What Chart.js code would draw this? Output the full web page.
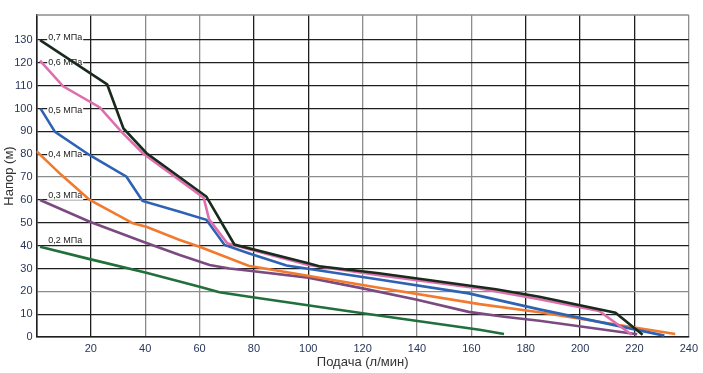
<!DOCTYPE html>
<html>
<head>
<meta charset="utf-8">
<script src="https://cdn.jsdelivr.net/npm/chart.js@4/dist/chart.umd.min.js"></script>
<style>
  html, body { margin: 0; padding: 0; background: #fff; }
  #wrap { width: 703px; height: 373px; }
</style>
</head>
<body>
<div id="wrap"><canvas id="pumpChart" width="703" height="373"></canvas></div>
<script>
// pump curves, head (m) vs flow (l/min)
const seriesLabels = ['0,7 МПа', '0,6 МПа', '0,5 МПа', '0,4 МПа', '0,3 МПа', '0,2 МПа'];
const seriesColors = ['#1a2a1c', '#de6fae', '#2e62b3', '#f27a2e', '#7b4a80', '#216f3b'];

const flow07 = [1.3, 26, 32, 40.4, 62.5, 72.8, 100, 104, 126, 169, 185, 213, 223];
const head07 = [130, 110.6, 91.3, 80.6, 61.5, 40.5, 32.3, 31, 27.9, 20.9, 17.6, 10.6, 1];

const flow06 = [1.3, 9.8, 23.3, 31.3, 39.2, 61.5, 63.5, 70.2, 100, 126, 163, 185, 207, 219];
const head06 = [121, 109.8, 100.5, 89.8, 80.4, 61, 51.5, 41, 31.5, 27.1, 21.3, 16.5, 11.4, 1];

const flow05 = [1.5, 6.8, 19.6, 33.1, 39, 52.7, 62.5, 69.2, 78.3, 92, 126, 159, 185, 231];
const head05 = [100, 89.8, 79.6, 70.2, 59.6, 54.8, 51.3, 40.3, 36.6, 31.3, 25.2, 19.1, 12.1, 0.6];

const flow04 = [0, 9.2, 19.6, 35.5, 40.4, 52.7, 60, 78, 126, 163, 185, 235];
const head04 = [81.4, 70.9, 60, 49.8, 48.3, 42.5, 39.5, 31.2, 21.6, 14.4, 10.8, 1.3];

const flow03 = [1.3, 19.6, 39.2, 52.7, 63.7, 71, 78.3, 100, 120, 140, 159, 172, 185, 221];
const head03 = [60, 50.5, 41.7, 35.9, 31.5, 30, 29, 26, 21.3, 16.3, 11, 8.9, 7.1, 1.2];

const flow02 = [1.3, 19.6, 40.4, 60, 67.3, 78.3, 120, 163, 172];
const head02 = [39.5, 34.1, 28.1, 22, 19.6, 17.6, 10.4, 3.2, 1.3];

// where the pressure tags sit (data units)
const tagFlow = [4.3, 4.3, 4.3, 4.3, 4.3, 4.3];
const tagHead = [131, 120, 99, 80, 61.8, 42.2];

const xTicksGrey = [40, 60, 120, 140, 160, 240];
const yTicksGrey = [20, 70];

const flows = [flow07, flow06, flow05, flow04, flow03, flow02];
const heads = [head07, head06, head05, head04, head03, head02];

function pairs(xs, ys) {
  return xs.map((x, i) => ({ x: x, y: ys[i] }));
}

const datasets = seriesLabels.map((lbl, i) => ({
  label: lbl,
  data: pairs(flows[i], heads[i]),
  borderColor: seriesColors[i],
  borderWidth: 2.6,
  pointRadius: 0,
  tension: 0,
  fill: false
}));

const FONT = "'Liberation Sans', Arial, sans-serif";

const framePlugin = {
  id: 'frame',
  beforeDatasetsDraw(chart) {
    const c = chart.ctx;
    const a = chart.chartArea;
    const xs = chart.scales.x, ys = chart.scales.y;
    c.save();
    // top border
    c.strokeStyle = '#8c8c8c';
    c.lineWidth = 1.5;
    c.beginPath();
    c.moveTo(a.left, a.top);
    c.lineTo(a.right, a.top);
    c.stroke();
    // pressure tags
    c.font = '9px ' + FONT;
    c.textBaseline = 'middle';
    c.textAlign = 'left';
    seriesLabels.forEach((lbl, i) => {
      const px = xs.getPixelForValue(tagFlow[i]);
      const py = ys.getPixelForValue(tagHead[i]);
      const w = c.measureText(lbl).width;
      c.fillStyle = '#fff';
      c.fillRect(px - 1, py - 4, w + 2, 8);
      c.fillStyle = '#222';
      c.fillText(lbl, px, py);
    });
    c.restore();
  }
};

new Chart(document.getElementById('pumpChart'), {
  type: 'line',
  data: { datasets: datasets },
  options: {
    responsive: false,
    animation: false,
    layout: { padding: { top: 15, right: 13, left: 0, bottom: 0 } },
    plugins: {
      legend: { display: false },
      tooltip: { enabled: false }
    },
    scales: {
      x: {
        type: 'linear',
        min: 0,
        max: 240,
        afterFit: s => { s.height = 36; },
        ticks: {
          stepSize: 20,
          padding: 5,
          color: '#27365a',
          font: { family: FONT, size: 11 },
          callback: v => (v === 0 ? '' : v)
        },
        grid: {
          drawTicks: false,
          lineWidth: 1.3,
          color: ctx => (ctx.tick && xTicksGrey.includes(ctx.tick.value)) ? '#8c8c8c' : '#1f1f1f'
        },
        border: { color: '#1f1f1f', width: 1.5 },
        title: {
          display: true,
          text: 'Подача (л/мин)',
          color: '#333',
          font: { family: FONT, size: 13 },
          padding: { top: 2, bottom: 3 }
        }
      },
      y: {
        type: 'linear',
        min: 0,
        max: 141,
        afterFit: s => { s.width = 36.5; },
        afterBuildTicks: axis => { axis.ticks = axis.ticks.filter(t => t.value <= 130); },
        ticks: {
          stepSize: 10,
          padding: 4,
          color: '#27365a',
          font: { family: FONT, size: 11 }
        },
        grid: {
          drawTicks: false,
          lineWidth: 1.3,
          color: ctx => (ctx.tick && yTicksGrey.includes(ctx.tick.value)) ? '#8c8c8c' : '#1f1f1f'
        },
        border: { color: '#1f1f1f', width: 1.5 },
        title: {
          display: true,
          text: 'Напор (м)',
          color: '#333',
          font: { family: FONT, size: 13 },
          padding: { top: 2, bottom: 2 }
        }
      }
    }
  },
  plugins: [framePlugin]
});
</script>
</body>
</html>
